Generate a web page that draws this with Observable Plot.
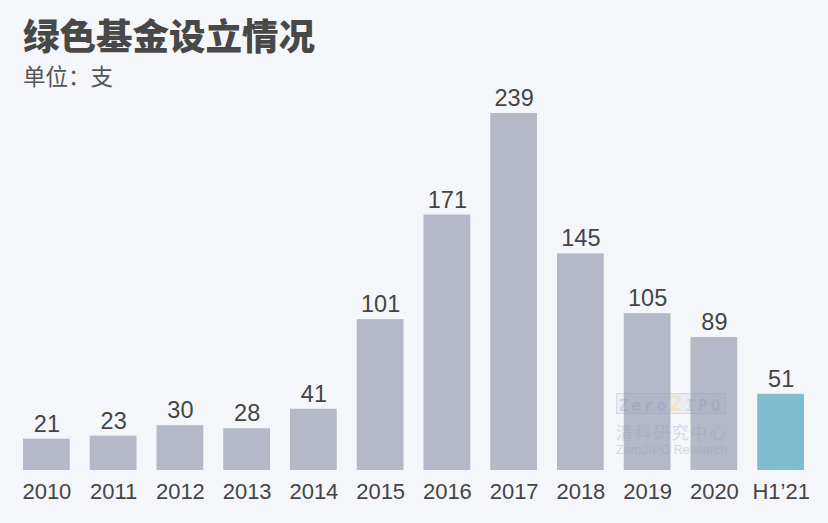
<!DOCTYPE html>
<html><head><meta charset="utf-8">
<script src="https://cdn.jsdelivr.net/npm/d3@7"></script>
<script src="https://cdn.jsdelivr.net/npm/@observablehq/plot@0.6"></script>
<style>
html,body{margin:0;padding:0;background:#f5f6fa;}
#wrap{position:relative;width:828px;height:523px;overflow:hidden;}
#title{position:absolute;left:23px;top:13px;font-family:"Noto Sans CJK SC",sans-serif;font-weight:900;font-size:36.5px;color:#484848;line-height:1.2;white-space:nowrap;}
#sub{position:absolute;left:23px;top:62px;font-family:"Noto Sans CJK SC",sans-serif;font-size:22.5px;color:#555;line-height:1.2;white-space:nowrap;}
#chart{position:absolute;left:0;top:90px;}
#wm{position:absolute;left:616px;top:393px;width:110px;text-align:center;opacity:0.3;pointer-events:none;}
#wm .b{border:1.5px solid #8e99bd;background:rgba(150,165,205,0.35);color:#7f8cb5;font-family:"DejaVu Sans Mono",monospace;font-weight:bold;font-size:16px;letter-spacing:3px;line-height:19px;height:19px;box-sizing:content-box;}
#wm .b span{color:#e8b84a;font-size:22px;}
#wm .c{font-family:"Noto Sans CJK SC",sans-serif;font-size:17px;color:#8e99bd;letter-spacing:1.6px;line-height:24px;margin-top:6px;white-space:nowrap;}
#wm .e{font-family:"Liberation Sans",Arial,sans-serif;font-size:12.5px;color:#8e99bd;line-height:12px;white-space:nowrap;}
</style></head>
<body>
<div id="wrap">
<div id="title">绿色基金设立情况</div>
<div id="sub">单位：支</div>
<div id="chart"></div>
<div id="wm"><div class="b">Zero<span>2</span>IPO</div><div class="c">清科研究中心</div><div class="e">Zero2IPO Research</div></div>
</div>
<script>
const categories = ["2010","2011","2012","2013","2014","2015","2016","2017","2018","2019","2020","H1’21"];
const counts = [21,23,30,28,41,101,171,239,145,105,89,51];
const highlighted = ["H1’21"];

const data = categories.map((c,i)=>({cat:c, v:counts[i], hl: highlighted.includes(c)}));

const chart = Plot.plot({
  width: 828,
  height: 433,
  marginLeft: 13,
  marginRight: 14,
  marginTop: 23,
  marginBottom: 53,
  style: {background: "transparent", fontFamily: "'Liberation Sans', Arial, sans-serif", overflow: "visible"},
  x: {domain: categories, paddingInner: 0.3, paddingOuter: 0.15, round: false, label: null},
  y: {domain: [0, 239], axis: null},
  marks: [
    Plot.barY(data, {x: "cat", y: "v", fill: d => d.hl ? "#80bccd" : "#b5b9c7"}),
    Plot.text(data, {x: "cat", y: "v", text: d => String(d.v), dy: -15, fontSize: 23.5, fill: "#444"}),
    Plot.axisX({tickSize: 0, tickPadding: 13, fontSize: 22, color: "#444", label: null})
  ]
});
document.getElementById("chart").appendChild(chart);
</script>
</body></html>
